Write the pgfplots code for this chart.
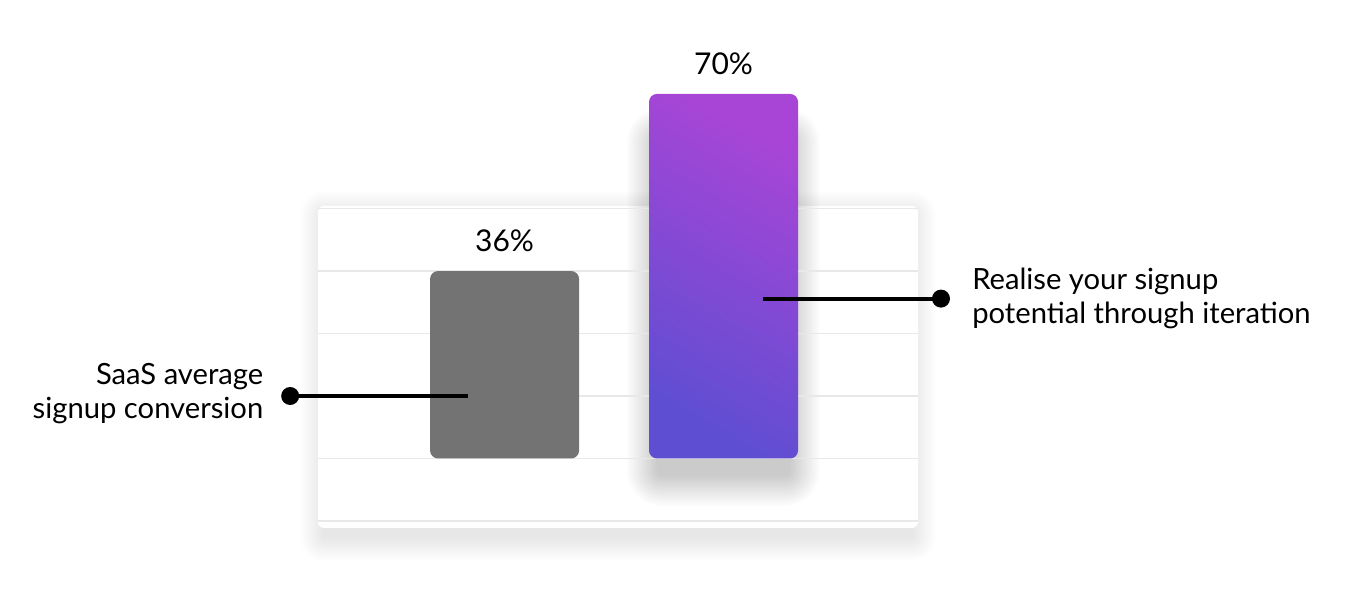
\documentclass[border=0pt]{standalone}
\usepackage{fontspec}
\setmainfont{Lato}
\usepackage{pgfplots}
\pgfplotsset{compat=1.18}

\definecolor{gridgray}{HTML}{E8E8E8}
\definecolor{bargray}{HTML}{737373}
\definecolor{purptop}{HTML}{A845D6}
\definecolor{purpbot}{HTML}{5E4ED2}

\begin{document}
\begin{tikzpicture}
% canvas in pixels of the reference, 1px = 0.5pt
\begin{scope}[x=0.5pt,y=0.5pt]
  \path[use as bounding box] (0,0) rectangle (1346,599);
  % soft shadow of the card: stacked faint layers
  \foreach \i in {1,...,24} {
    \fill[black, opacity=0.0045, rounded corners=\i*0.5pt]
      (324-\i,62-\i) rectangle (912+\i,384+\i);
  }
  % white card behind the chart
  \fill[white, rounded corners=3pt] (318,71) rectangle (918,393);
  % soft shadow under the purple bar
  \foreach \i in {1,...,26} {
    \fill[black, opacity=0.0065, rounded corners=2pt+\i*0.6pt]
      (658-\i*1.2,124-\i*1.2) rectangle (789+\i*1.2,460+\i*1.2);
  }
\end{scope}

\begin{axis}[
    at={(159pt,39pt)}, anchor=south west,
    scale only axis,
    width=300pt, height=156.25pt,
    xmin=-0.852, xmax=1.888,
    ymin=-12, ymax=48,
    clip=false,
    axis line style={draw=none},
    major tick length=0pt,
    xtick=\empty,
    ytick={-12,0,12,24,36,48},
    yticklabels={},
    ymajorgrids,
    grid style={gridgray, line width=0.7pt},
    nodes near coords={\pgfmathprintnumber[assume math mode=true]{\pgfplotspointmeta}\%},
    nodes near coords style={anchor=south, font=\fontsize{15}{18}\selectfont, yshift=6pt},
]
\addplot[ybar, bar width=74.5pt, bar shift=0pt, draw=none,
         fill=bargray, rounded corners=4pt]
  coordinates {(0,36)};
\addplot[ybar, bar width=74.5pt, bar shift=0pt, draw=none,
         rounded corners=4pt,
         top color=purptop, bottom color=purpbot, shading angle=-30]
  coordinates {(1,70)};

% connector lines
\draw[line width=2pt] (axis cs:-0.167,12) -- (axis cs:-0.979,12);
\fill (axis cs:-0.979,12) circle[radius=4.5pt];
\draw[line width=2pt] (axis cs:1.18,30.7) -- (axis cs:1.993,30.7);
\fill (axis cs:1.993,30.7) circle[radius=4.5pt];

\node[anchor=east, align=right, font=\fontsize{14.6}{17}\selectfont, inner sep=0pt]
  at (axis cs:-1.1,12.4) {SaaS average\\signup conversion};
\node[anchor=west, align=left, font=\fontsize{14.6}{17}\selectfont, inner sep=0pt]
  at (axis cs:2.134,30.7) {Realise your signup\\potential through iteration};
\end{axis}
\end{tikzpicture}
\end{document}
